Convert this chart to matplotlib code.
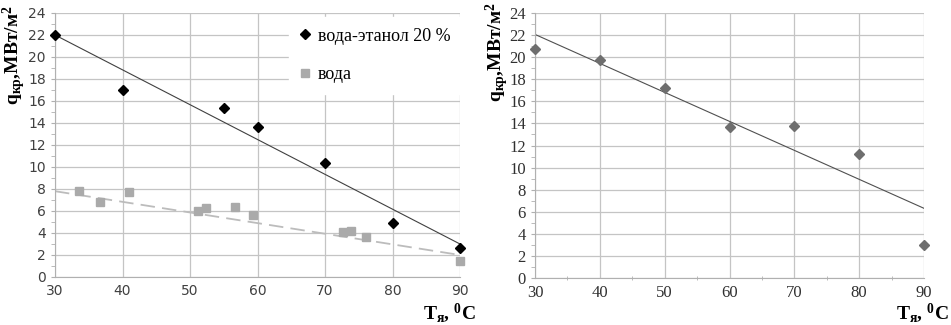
import numpy as np
import matplotlib
matplotlib.use("Agg")
import matplotlib.pyplot as plt
from matplotlib.ticker import MultipleLocator

plt.rcParams['mathtext.fontset'] = 'custom'
plt.rcParams['mathtext.rm'] = 'Liberation Serif:bold'
plt.rcParams['mathtext.it'] = 'Liberation Serif:bold'
plt.rcParams['mathtext.bf'] = 'Liberation Serif:bold'

# left chart: water-ethanol 20 % and pure water
t_eth = [30, 40, 55, 60, 70, 80, 90]
q_eth = [22.0, 17.0, 15.4, 13.6, 10.4, 4.9, 2.6]
t_wat = [33.5, 36.7, 41.0, 51.2, 52.3, 56.7, 59.4, 72.7, 73.9, 76.1, 90.0]
q_wat = [7.8, 6.8, 7.7, 6.0, 6.3, 6.4, 5.6, 4.1, 4.2, 3.6, 1.5]
# trend lines (values at 30 and 90)
trend_t = [30, 90]
trend_eth = [22.0, 3.0]
trend_wat = [7.8, 2.0]

# right chart
t_r = [30, 40, 50, 60, 70, 80, 90]
q_r = [20.7, 19.7, 17.2, 13.7, 13.8, 11.2, 3.0]

lab_eth = "вода-этанол 20 %"
lab_wat = "вода"
ylab = r"q$_{\mathrm{кр}}$,МВт/м$^{\mathrm{2}}$"
xlab = r"T$_{\mathrm{я}}$, $^{\mathrm{0}}$C"

fig = plt.figure(figsize=(9.51, 3.25), dpi=100)
ax1 = fig.add_axes([55/951, 1-277/325, 405/951, 264/325])
ax2 = fig.add_axes([535/951, 1-278/325, 389/951, 265/325])


def style(ax, tickfont, tcol):
    ax.set_xlim(30, 90)
    ax.set_ylim(0, 24)
    ax.xaxis.set_major_locator(MultipleLocator(10))
    ax.yaxis.set_major_locator(MultipleLocator(2))
    ax.yaxis.set_minor_locator(MultipleLocator(1))
    ax.grid(True, which='major', color='#c4c4c4', lw=0.9, zorder=0)
    ax.set_axisbelow(True)
    for s in ['top', 'right']:
        ax.spines[s].set_visible(False)
    for s in ['left', 'bottom']:
        ax.spines[s].set_color('#b0b0b0')
    ax.tick_params(which='both', color='#b0b0b0', length=3, labelcolor=tcol)
    ax.tick_params(axis='x', which='major', length=0, pad=5)
    for lbl in ax.get_xticklabels() + ax.get_yticklabels():
        lbl.set_fontfamily(tickfont[0])
        lbl.set_fontsize(tickfont[1])


style(ax1, ('DejaVu Sans', 10), '#404040')
style(ax2, ('Liberation Serif', 12), '#303030')
ax2.xaxis.set_minor_locator(MultipleLocator(5))
ax2.tick_params(axis='x', which='minor', length=3, direction='inout')

ax1.plot(trend_t, trend_eth, color='#404040', lw=0.8, zorder=2)
ax1.plot(trend_t, trend_wat, color='#bcbcbc', lw=1.3, ls=(0, (8, 4)), zorder=2)
ax1.plot(t_eth, q_eth, 'D', color='black', ms=5.5, ls='none', label=lab_eth, zorder=4, clip_on=False)
ax1.plot(t_wat, q_wat, 's', color='#aaaaaa', ms=5.5, ls='none', label=lab_wat, zorder=3, clip_on=False)

leg = ax1.legend(loc='upper right', bbox_to_anchor=(1.025, 1.02), frameon=True,
                 fancybox=False, edgecolor='white', framealpha=1, borderpad=0.6,
                 labelspacing=1.2, handlelength=0.6, handletextpad=0.4,
                 prop={'family': 'Liberation Serif', 'size': 13})

xx = np.array([30, 90])
k, b = np.polyfit(t_r, q_r, 1)
ax2.plot(xx, k*xx + b, color='#505050', lw=0.8, zorder=2)
ax2.plot(t_r, q_r, 'D', color='#6e6e6e', ms=5.5, ls='none', zorder=3, clip_on=False)

tkw = dict(fontsize=14, fontfamily='Liberation Serif', fontweight='bold')
fig.text(14/951, 1-55/325, ylab, rotation=90, ha='center', va='center', **tkw)
fig.text(497/951, 1-52/325, ylab, rotation=90, ha='center', va='center', **tkw)
fig.text(476/951, 1-313/325, xlab, ha='right', va='center', **tkw)
fig.text(949/951, 1-313/325, xlab, ha='right', va='center', **tkw)

fig.savefig("out.png", dpi=100)
